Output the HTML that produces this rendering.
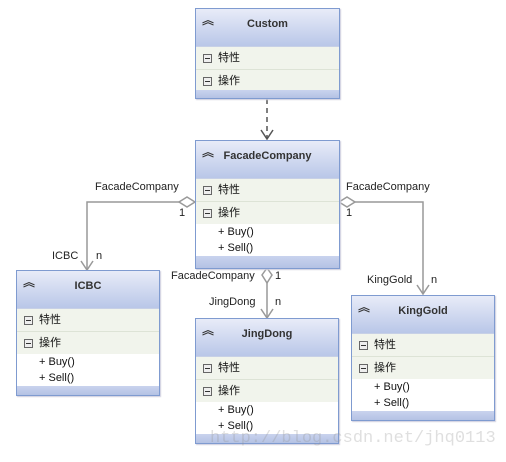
<!DOCTYPE html>
<html><head><meta charset="utf-8"><style>
body{margin:0;width:506px;height:462px;background:#fff;position:relative;overflow:hidden;font-family:"Liberation Sans","Noto Sans CJK SC",sans-serif;font-size:11px;color:#111}
.box{position:absolute;border:1px solid #7f9bd0;background:#fff;box-sizing:border-box;box-shadow:1px 1px 1px #ccd}
.hd{height:37px;background:linear-gradient(#e8ecf8,#b9c7e8);position:relative;border-bottom:1px solid #c7d0e6}
.hd b{position:absolute;left:0;right:0;top:9px;text-align:center;font-size:11px;color:#333}
.hd i{position:absolute;left:6px;top:2px;font-style:normal;font-weight:bold;font-size:12px;color:#333}
.row{height:22px;line-height:22px;background:#f1f4ec;border-bottom:1px solid #dde3d6;padding-left:22px;position:relative}
.row:before{content:"";position:absolute;left:7px;top:7px;width:7px;height:7px;border:1px solid #666;background:#eee}
.row:after{content:"";position:absolute;left:9px;top:11px;width:5px;height:1px;background:#333}
.m{height:16px;line-height:16px;padding-left:22px}
.ft{background:linear-gradient(#c9d3ee,#b4c2e4);position:absolute;left:0;right:0;bottom:0}
.lb{position:absolute;font-size:11px;color:#222;white-space:nowrap}
</style></head><body>
<svg width="506" height="462" style="position:absolute;left:0;top:0">
<g stroke="#999" fill="none" stroke-width="1.5">
<line x1="267" y1="99" x2="267" y2="138" stroke-dasharray="5,4" stroke="#555"/>
<polyline points="261,130 267,139 273,130" stroke="#555"/>
<polyline points="180,202 87,202 87,269"/>
<polyline points="81,261 87,270 93,261"/>
<polygon points="195,202 187,197 179,202 187,207" fill="#fff"/>
<polyline points="355,202 423,202 423,293"/>
<polyline points="417,285 423,294 429,285"/>
<polygon points="339,202 347,197 355,202 347,207" fill="#fff"/>
<line x1="267" y1="283" x2="267" y2="317"/>
<polyline points="261,309 267,318 273,309"/>
<polygon points="267,268 272,275 267,283 262,275" fill="#fff"/>
</g></svg>

<div class="box" style="left:195px;top:8px;width:145px;height:91px">
<div class="hd"><i>︽</i><b>Custom</b></div><div class="row">特性</div><div class="row">操作</div><div class="ft" style="height:8px"></div></div>

<div class="box" style="left:195px;top:140px;width:145px;height:129px">
<div class="hd"><i>︽</i><b>FacadeCompany</b></div><div class="row">特性</div><div class="row" style="border:0">操作</div>
<div class="m">+ Buy()</div><div class="m">+ Sell()</div><div class="ft" style="height:12px"></div></div>

<div class="box" style="left:16px;top:270px;width:144px;height:126px">
<div class="hd"><i>︽</i><b>ICBC</b></div><div class="row">特性</div><div class="row" style="border:0">操作</div>
<div class="m">+ Buy()</div><div class="m">+ Sell()</div><div class="ft" style="height:9px"></div></div>

<div class="box" style="left:195px;top:318px;width:144px;height:126px">
<div class="hd"><i>︽</i><b>JingDong</b></div><div class="row">特性</div><div class="row" style="border:0">操作</div>
<div class="m">+ Buy()</div><div class="m">+ Sell()</div><div class="ft" style="height:9px"></div></div>

<div class="box" style="left:351px;top:295px;width:144px;height:126px">
<div class="hd"><i>︽</i><b>KingGold</b></div><div class="row">特性</div><div class="row" style="border:0">操作</div>
<div class="m">+ Buy()</div><div class="m">+ Sell()</div><div class="ft" style="height:9px"></div></div>

<div class="lb" style="left:95px;top:181px">FacadeCompany</div>
<div class="lb" style="left:179px;top:207px">1</div>
<div class="lb" style="left:52px;top:250px">ICBC</div>
<div class="lb" style="left:96px;top:250px">n</div>
<div class="lb" style="left:346px;top:181px">FacadeCompany</div>
<div class="lb" style="left:346px;top:207px">1</div>
<div class="lb" style="left:367px;top:274px">KingGold</div>
<div class="lb" style="left:431px;top:274px">n</div>
<div class="lb" style="left:171px;top:270px">FacadeCompany</div>
<div class="lb" style="left:275px;top:270px">1</div>
<div class="lb" style="left:209px;top:296px">JingDong</div>
<div class="lb" style="left:275px;top:296px">n</div>
<div class="lb" style="left:210px;top:429px;font-family:'Liberation Mono',monospace;font-size:17px;color:rgba(150,150,150,0.3)">http://blog.csdn.net/jhq0113</div>
</body></html>
